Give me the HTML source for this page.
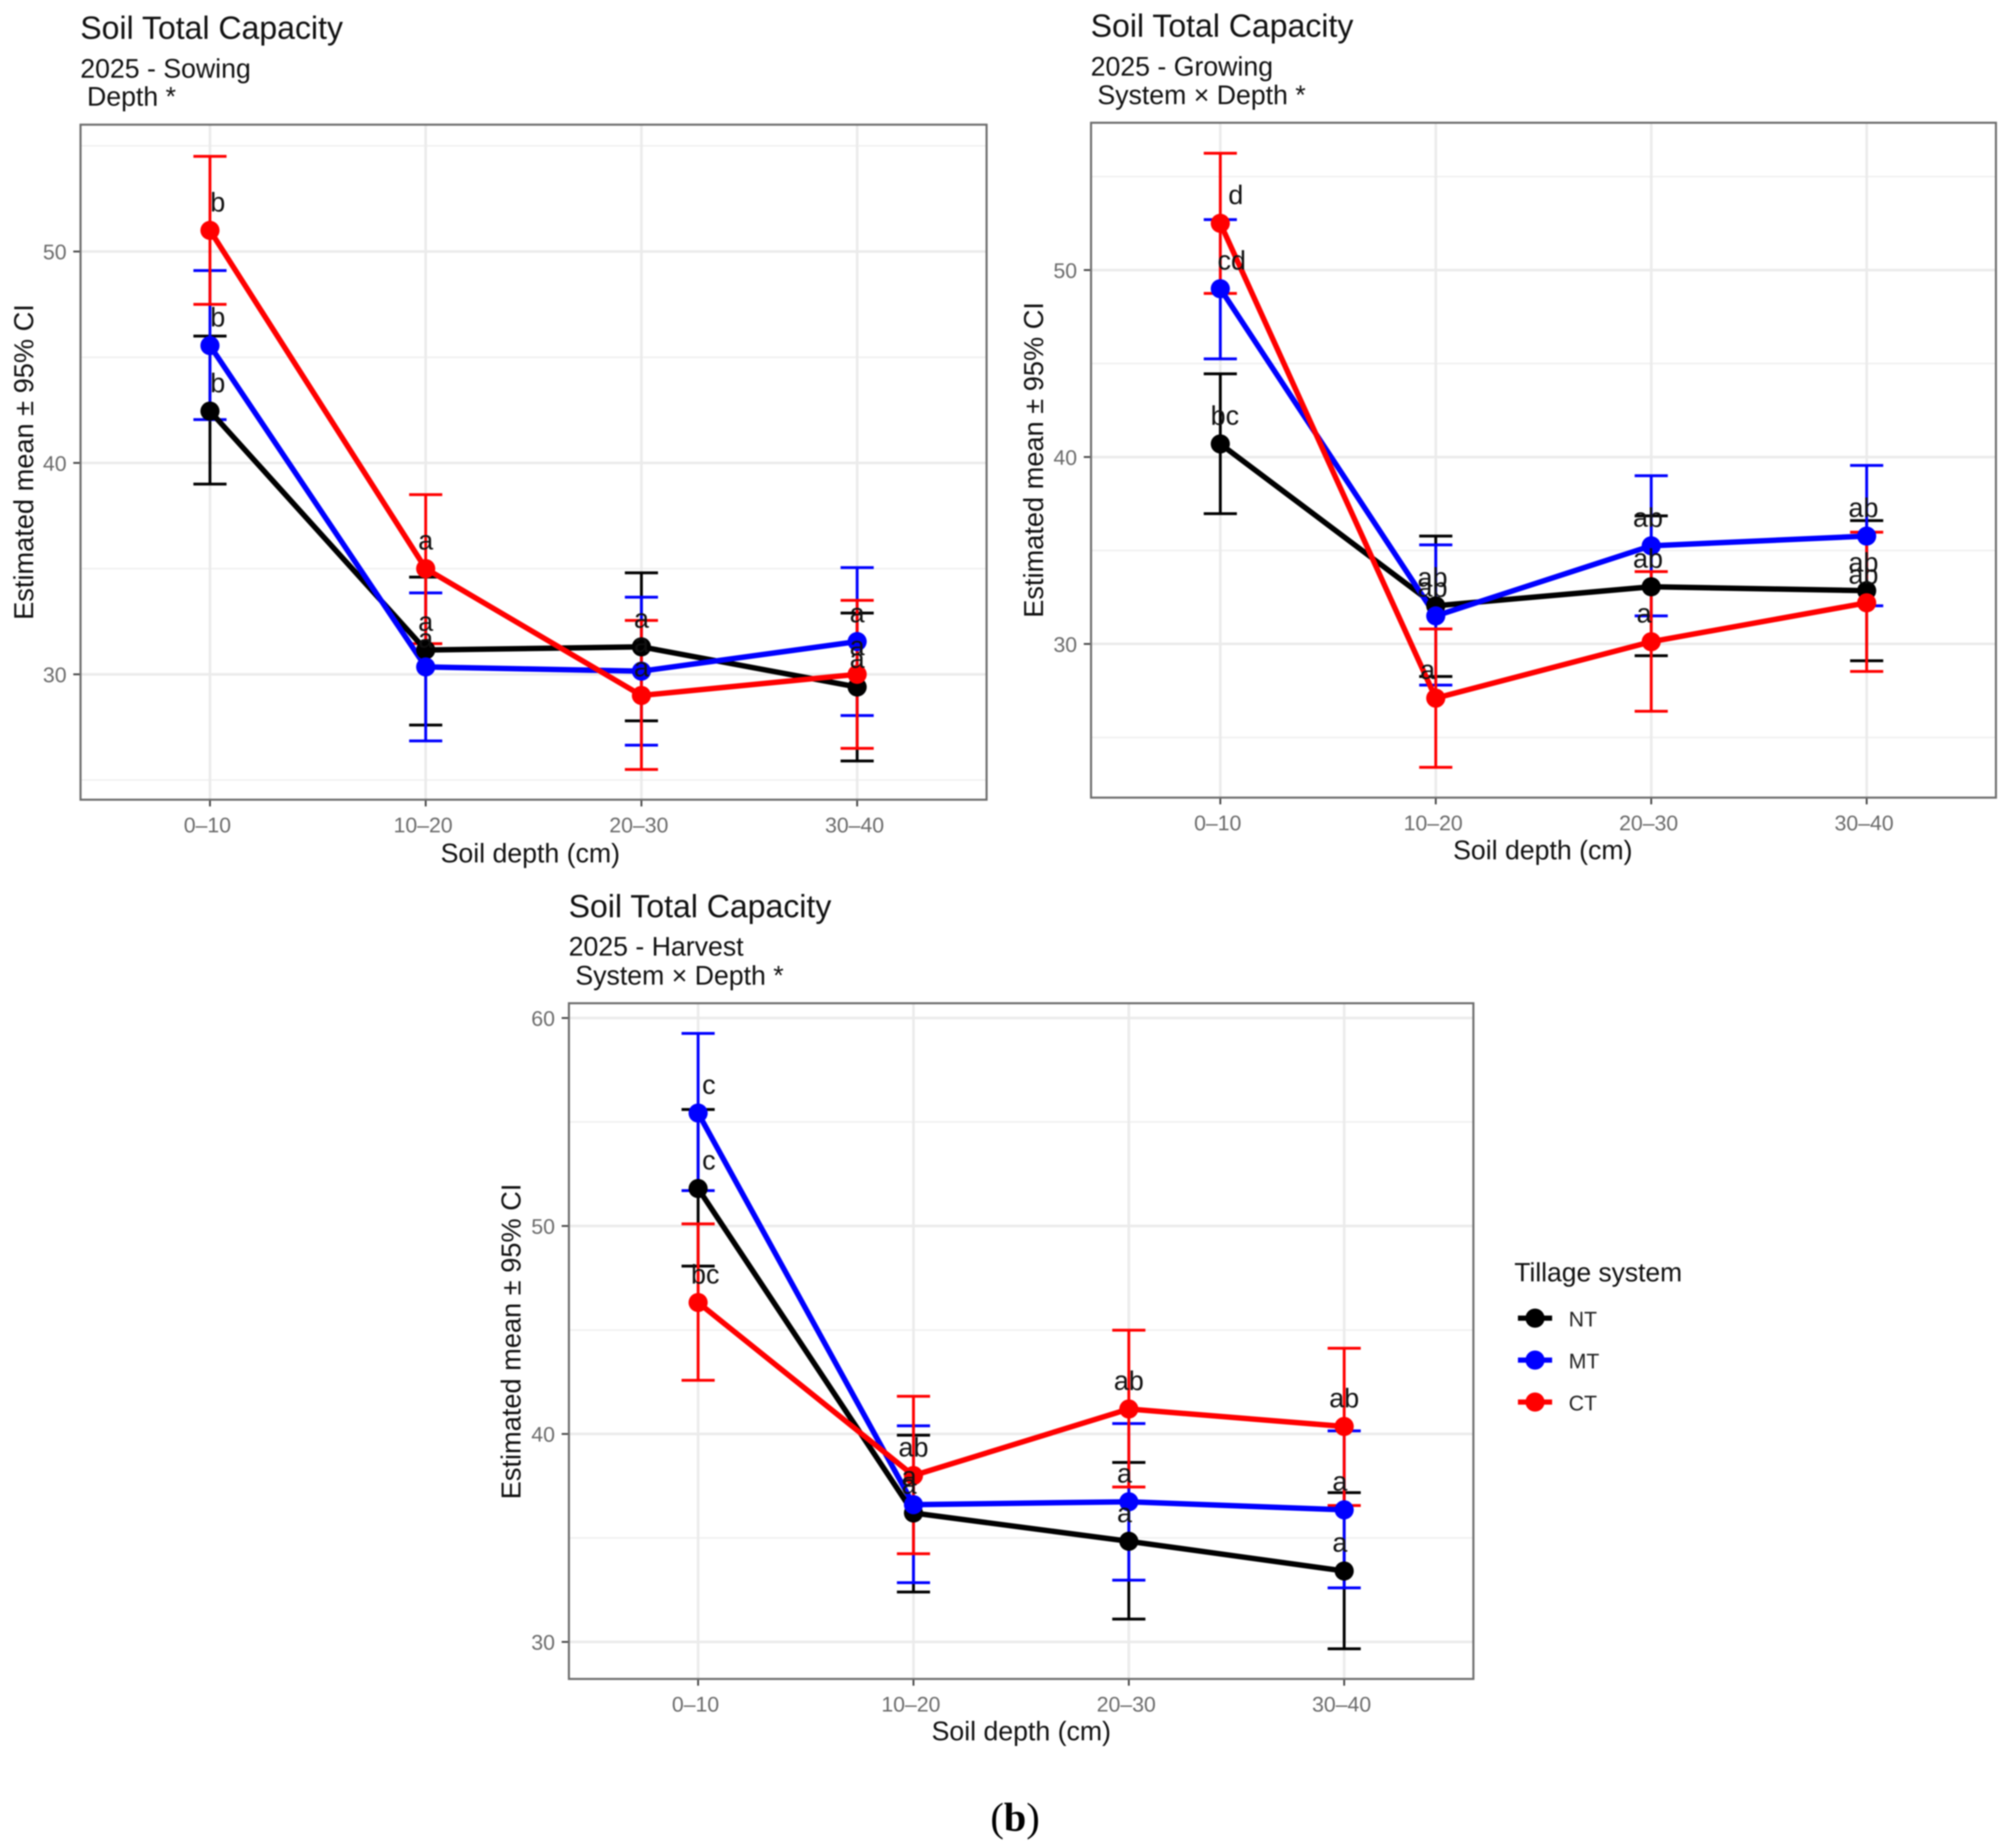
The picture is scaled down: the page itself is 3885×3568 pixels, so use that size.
<!DOCTYPE html>
<html lang="en">
<head>
<meta charset="utf-8">
<title>Soil Total Capacity</title>
<style>
html,body{margin:0;padding:0;background:#fff;}
svg{display:block;filter:blur(1.4px);}
text{font-family:"Liberation Sans",Arial,sans-serif;fill:#000;}
.ft{font-size:61.8px;fill:#111;}
.st{font-size:51.5px;fill:#111;}
.at{font-size:51.5px;text-anchor:middle;fill:#111;}
.yt{font-size:52.5px;text-anchor:middle;fill:#111;}
.lg{font-size:41px;fill:#222;}
</style>
</head>
<body>
<svg id="figure" xmlns="http://www.w3.org/2000/svg" width="3885" height="3568" viewBox="0 0 3885 3568">
  <rect width="3885" height="3568" fill="#fff"/>

  <g id="sowing-panel"></g>
  <text class="ft" x="155" y="75">Soil Total Capacity</text>
  <text class="st" x="155" y="150">2025 - Sowing</text>
  <text class="st" x="168" y="204">Depth *</text>
  <text class="at" x="1024" y="1665">Soil depth (cm)</text>
  <text class="yt" transform="translate(64 892) rotate(-90)">Estimated mean ± 95% CI</text>

  <g id="growing-panel"></g>
  <text class="ft" x="2106" y="71">Soil Total Capacity</text>
  <text class="st" x="2106" y="146">2025 - Growing</text>
  <text class="st" x="2119" y="201">System × Depth *</text>
  <text class="at" x="2979" y="1659">Soil depth (cm)</text>
  <text class="yt" transform="translate(2014 888) rotate(-90)">Estimated mean ± 95% CI</text>

  <g id="harvest-panel"></g>
  <text class="ft" x="1098" y="1771">Soil Total Capacity</text>
  <text class="st" x="1098" y="1845">2025 - Harvest</text>
  <text class="st" x="1111" y="1901">System × Depth *</text>
  <text class="at" x="1972" y="3360">Soil depth (cm)</text>
  <text class="yt" transform="translate(1005 2590) rotate(-90)">Estimated mean ± 95% CI</text>

  <g>
    <text x="2924" y="2474" style="font-size:51px;fill:#111">Tillage system</text>
    <g>
      <line x1="2931" x2="2997" y1="2545" y2="2545" stroke="#000" stroke-width="10"/>
      <circle cx="2964" cy="2545" r="18.5" fill="#000"/>
      <text class="lg" x="3029" y="2561">NT</text>
    </g>
    <g>
      <line x1="2931" x2="2997" y1="2626" y2="2626" stroke="#0000ff" stroke-width="10"/>
      <circle cx="2964" cy="2626" r="18.5" fill="#0000ff"/>
      <text class="lg" x="3029" y="2642">MT</text>
    </g>
    <g>
      <line x1="2931" x2="2997" y1="2707" y2="2707" stroke="#ff0000" stroke-width="10"/>
      <circle cx="2964" cy="2707" r="18.5" fill="#ff0000"/>
      <text class="lg" x="3029" y="2723">CT</text>
    </g>
  </g>

  <text x="1960" y="3535" text-anchor="middle" style="font-family:'Liberation Serif',serif;font-size:78px">(<tspan font-weight="bold">b</tspan>)</text>
</svg>

<script>
const categories = ["0–10", "10–20", "20–30", "30–40"];
const seriesNames = ["NT", "MT", "CT"];

/* Sowing */
const sowingTicks = [30, 40, 50];
const sowingMinorTicks = [25, 35, 45, 55];
const sowingDomain = [24.07, 56.0];
const sowingNT = [42.45, 31.15, 31.3, 29.4];
const sowingNTLow = [39.0, 27.6, 27.8, 25.9];
const sowingNTHigh = [46.0, 34.6, 34.8, 32.9];
const sowingNTLetters = ["b", "a", "a", "a"];
const sowingNTNudge = [0.036, 0, 0, 0];
const sowingMT = [45.55, 30.35, 30.15, 31.55];
const sowingMTLow = [42.05, 26.85, 26.65, 28.05];
const sowingMTHigh = [49.1, 33.85, 33.65, 35.05];
const sowingMTLetters = ["b", "a", "a", "a"];
const sowingMTNudge = [0.036, 0, 0, 0];
const sowingCT = [51.0, 35.0, 29.0, 30.0];
const sowingCTLow = [47.5, 31.45, 25.5, 26.5];
const sowingCTHigh = [54.5, 38.5, 32.55, 33.5];
const sowingCTLetters = ["b", "a", "a", "a"];
const sowingCTNudge = [0.036, 0, 0, 0];

/* Growing */
const growingTicks = [30, 40, 50];
const growingMinorTicks = [25, 35, 45, 55];
const growingDomain = [21.78, 57.88];
const growingNT = [40.7, 32.04, 33.06, 32.85];
const growingNTLow = [36.97, 28.26, 29.37, 29.1];
const growingNTHigh = [44.45, 35.77, 36.85, 36.6];
const growingNTLetters = ["bc", "ab", "ab", "ab"];
const growingNTNudge = [0.021, -0.015, -0.015, -0.015];
const growingMT = [49.0, 31.5, 35.25, 35.77];
const growingMTLow = [45.25, 27.8, 31.5, 32.04];
const growingMTHigh = [52.7, 35.3, 39.0, 39.55];
const growingMTLetters = ["cd", "ab", "ab", "ab"];
const growingMTNudge = [0.053, -0.015, -0.015, -0.015];
const growingCT = [52.5, 27.1, 30.12, 32.2];
const growingCTLow = [48.75, 23.4, 26.4, 28.53];
const growingCTHigh = [56.25, 30.8, 33.87, 35.98];
const growingCTLetters = ["d", "a", "a", "ab"];
const growingCTNudge = [0.072, -0.038, -0.033, -0.015];

/* Harvest */
const harvestTicks = [30, 40, 50, 60];
const harvestMinorTicks = [35, 45, 55];
const harvestDomain = [28.22, 60.71];
const harvestNT = [51.8, 36.2, 34.84, 33.41];
const harvestNTLow = [48.07, 32.4, 31.1, 29.67];
const harvestNTHigh = [55.6, 39.94, 38.63, 37.18];
const harvestNTLetters = ["c", "a", "a", "a"];
const harvestNTNudge = [0.05, -0.02, -0.02, -0.02];
const harvestMT = [55.43, 36.6, 36.74, 36.35];
const harvestMTLow = [51.7, 32.85, 32.97, 32.6];
const harvestMTHigh = [59.26, 40.39, 40.5, 40.15];
const harvestMTLetters = ["c", "a", "a", "a"];
const harvestMTNudge = [0.05, -0.02, -0.02, -0.02];
const harvestCT = [46.32, 38.0, 41.2, 40.36];
const harvestCTLow = [42.58, 34.24, 37.45, 36.56];
const harvestCTHigh = [50.1, 41.81, 44.99, 44.12];
const harvestCTLetters = ["bc", "ab", "ab", "ab"];
const harvestCTNudge = [0.033, 0, 0, 0];

const seriesColors = ["#000000", "#0000ff", "#ff0000"];
const NS = "http://www.w3.org/2000/svg";

function make(parent, tag, name, attrs) {
  const el = document.createElementNS(NS, tag);
  
  
  for (const k in attrs) el.setAttribute(k, attrs[k]);
  parent.appendChild(el);
  return el;
}

function drawPanel(id, prefix, box, domain, ticks, minorTicks, series) {
  const root = document.getElementById(id);
  const xScale = function (i) {
    return box.left + (box.right - box.left) * (i + 0.6) / (categories.length - 1 + 1.2);
  };
  const yScale = function (v) {
    return box.bottom - (v - domain[0]) / (domain[1] - domain[0]) * (box.bottom - box.top);
  };
  make(root, 'rect', prefix + '-plot-background', {
    x: box.left, y: box.top, width: box.right - box.left, height: box.bottom - box.top, fill: '#fff'
  });
  minorTicks.forEach(function (t) {
    make(root, 'line', prefix + '-minor-gridline', {
      x1: box.left, x2: box.right, y1: yScale(t), y2: yScale(t), stroke: '#f0f0f0', 'stroke-width': 3
    });
  });
  ticks.forEach(function (t) {
    make(root, 'line', prefix + '-major-gridline', {
      x1: box.left, x2: box.right, y1: yScale(t), y2: yScale(t), stroke: '#ebebeb', 'stroke-width': 5
    });
    make(root, 'line', prefix + '-y-tick', {
      x1: box.left - 14, x2: box.left, y1: yScale(t), y2: yScale(t), stroke: '#444', 'stroke-width': 3.5
    });
    const lab = make(root, 'text', prefix + '-y-tick-label', {
      x: box.left - 27, y: yScale(t) + 15, 'text-anchor': 'end', style: 'font-size:41px;fill:#6a6a6a'
    });
    lab.textContent = t;
  });
  categories.forEach(function (c, i) {
    make(root, 'line', prefix + '-vertical-gridline', {
      x1: xScale(i), x2: xScale(i), y1: box.top, y2: box.bottom, stroke: '#ebebeb', 'stroke-width': 5
    });
    make(root, 'line', prefix + '-x-tick', {
      x1: xScale(i), x2: xScale(i), y1: box.bottom, y2: box.bottom + 13, stroke: '#444', 'stroke-width': 3.5
    });
    const lab = make(root, 'text', prefix + '-x-tick-label', {
      x: xScale(i) - 5, y: box.bottom + 63, 'text-anchor': 'middle', style: 'font-size:41px;fill:#6a6a6a'
    });
    lab.textContent = c;
  });
  series.forEach(function (s, k) {
    const nm = seriesNames[k].toLowerCase();
    s.mean.forEach(function (m, i) {
      const x = xScale(i), hi = yScale(s.high[i]), lo = yScale(s.low[i]);
      make(root, 'line', prefix + '-errorbar-' + nm, { x1: x, x2: x, y1: hi, y2: lo, stroke: seriesColors[k], 'stroke-width': 5.5 });
      make(root, 'line', prefix + '-errorbar-cap-' + nm, { x1: x - 32, x2: x + 32, y1: hi, y2: hi, stroke: seriesColors[k], 'stroke-width': 5.5 });
      make(root, 'line', prefix + '-errorbar-cap-' + nm, { x1: x - 32, x2: x + 32, y1: lo, y2: lo, stroke: seriesColors[k], 'stroke-width': 5.5 });
    });
  });
  series.forEach(function (s, k) {
    const nm = seriesNames[k].toLowerCase();
    const pts = s.mean.map(function (m, i) { return xScale(i) + ',' + yScale(m); }).join(' ');
    make(root, 'polyline', prefix + '-line-' + nm, {
      points: pts, fill: 'none', stroke: seriesColors[k], 'stroke-width': 10.5, 'stroke-linejoin': 'round'
    });
  });
  series.forEach(function (s, k) {
    const nm = seriesNames[k].toLowerCase();
    s.mean.forEach(function (m, i) {
      make(root, 'circle', prefix + '-point-' + nm, { cx: xScale(i), cy: yScale(m), r: 18.5, fill: seriesColors[k] });
    });
  });
  series.forEach(function (s, k) {
    const nm = seriesNames[k].toLowerCase();
    s.mean.forEach(function (m, i) {
      const lab = make(root, 'text', prefix + '-letter-' + nm, {
        x: xScale(i + s.nudge[i]), y: yScale(m) - 37, 'text-anchor': 'middle', style: 'font-size:52px;fill:#111'
      });
      lab.textContent = s.letters[i];
    });
  });
  make(root, 'rect', prefix + '-panel-border', {
    x: box.left, y: box.top, width: box.right - box.left, height: box.bottom - box.top,
    fill: 'none', stroke: '#6e6e6e', 'stroke-width': 4
  });
}

drawPanel('sowing-panel', 'sowing', { left: 155.5, right: 1905, top: 240.7, bottom: 1544 },
  sowingDomain, sowingTicks, sowingMinorTicks, [
    { mean: sowingNT, low: sowingNTLow, high: sowingNTHigh, letters: sowingNTLetters, nudge: sowingNTNudge },
    { mean: sowingMT, low: sowingMTLow, high: sowingMTHigh, letters: sowingMTLetters, nudge: sowingMTNudge },
    { mean: sowingCT, low: sowingCTLow, high: sowingCTHigh, letters: sowingCTLetters, nudge: sowingCTNudge }
  ]);

drawPanel('growing-panel', 'growing', { left: 2106.7, right: 3854, top: 237, bottom: 1540 },
  growingDomain, growingTicks, growingMinorTicks, [
    { mean: growingNT, low: growingNTLow, high: growingNTHigh, letters: growingNTLetters, nudge: growingNTNudge },
    { mean: growingMT, low: growingMTLow, high: growingMTHigh, letters: growingMTLetters, nudge: growingMTNudge },
    { mean: growingCT, low: growingCTLow, high: growingCTHigh, letters: growingCTLetters, nudge: growingCTNudge }
  ]);

drawPanel('harvest-panel', 'harvest', { left: 1098.5, right: 2845, top: 1937, bottom: 3241.6 },
  harvestDomain, harvestTicks, harvestMinorTicks, [
    { mean: harvestNT, low: harvestNTLow, high: harvestNTHigh, letters: harvestNTLetters, nudge: harvestNTNudge },
    { mean: harvestMT, low: harvestMTLow, high: harvestMTHigh, letters: harvestMTLetters, nudge: harvestMTNudge },
    { mean: harvestCT, low: harvestCTLow, high: harvestCTHigh, letters: harvestCTLetters, nudge: harvestCTNudge }
  ]);
</script>
</body>
</html>
